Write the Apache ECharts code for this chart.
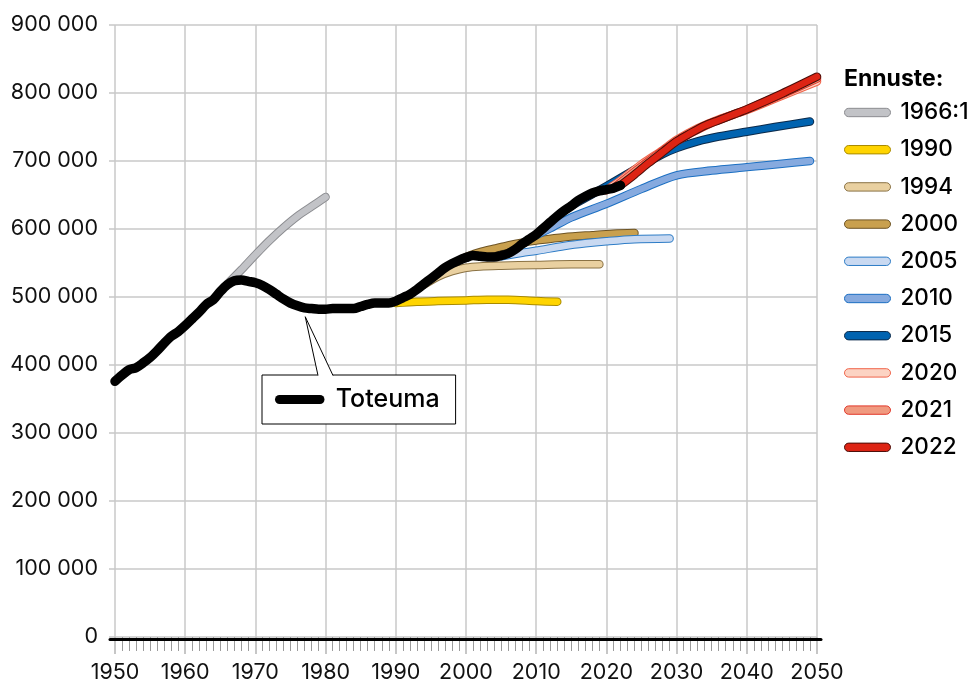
<!DOCTYPE html>
<html>
<head>
<meta charset="utf-8">
<script src="https://cdn.jsdelivr.net/npm/echarts@6/dist/echarts.min.js"></script>
<style>
html,body{margin:0;padding:0;background:#fff;}
#chart{width:976px;height:684px;}
</style>
</head>
<body>
<div id="chart"></div>
<script>
// ---- Data (population) ----
const toteumaYears = [1950,1951,1952,1953,1954,1955,1956,1957,1958,1959,1960,1961,1962,1963,1964,1965,1966,1967,1968,1969,1970,1971,1972,1973,1974,1975,1976,1977,1978,1979,1980,1981,1982,1983,1984,1985,1986,1987,1988,1989,1990,1991,1992,1993,1994,1995,1996,1997,1998,1999,2000,2001,2002,2003,2004,2005,2006,2007,2008,2009,2010,2011,2012,2013,2014,2015,2016,2017,2018,2019,2020,2021,2022];
const toteumaValues = [376000,385000,393000,396000,403000,411000,421000,432000,442000,449000,458000,468000,478000,489000,496000,508000,518000,524000,525000,523000,521000,517000,511000,504000,497000,491000,487000,484000,483000,482000,482000,483000,483000,483000,483000,486000,489000,491000,491000,491000,494000,499000,504000,511000,519000,527000,535000,543000,549000,554000,558000,561000,560000,559000,559000,561000,564000,570000,578000,585000,592000,601000,610000,619000,627000,634000,642000,648000,653000,656000,658000,660000,664000];

const f1966Years  = [1966,1968,1970,1972,1974,1976,1978,1980];
const f1966Values = [519000,540000,562000,583000,602000,619000,633000,647000];

const f1990Years  = [1990,1993,1996,2000,2003,2006,2010,2013];
const f1990Values = [491000,493000,494000,495000,496000,496000,494000,493000];

const f1994Years  = [1994,1996,1998,2000,2002,2005,2010,2015,2019];
const f1994Values = [518000,530000,538000,543000,545000,546000,547000,548000,548000];

const f2000Years  = [2000,2002,2004,2006,2008,2010,2014,2018,2021,2024];
const f2000Values = [559000,566000,571000,576000,580000,583000,588000,591000,593000,594000];

const f2005Years  = [2005,2008,2010,2014,2017,2020,2024,2029];
const f2005Values = [560000,565000,568000,575000,579000,582000,585000,586000];

const f2010Years  = [2010,2012,2015,2020,2025,2030,2035,2040,2045,2049];
const f2010Values = [591000,601000,617000,637000,659000,679000,686000,691000,696000,700000];

const f2015Years  = [2015,2020,2025,2028,2030,2033,2036,2040,2044,2049];
const f2015Values = [634000,663000,693000,710000,719000,729000,736000,743000,750000,758000];

const f2020Years  = [2020,2022,2025,2028,2030,2033,2036,2040,2045,2050];
const f2020Values = [657000,671000,695000,716000,731000,748000,761000,775000,796000,817000];

const f2021Years  = [2021,2025,2030,2035,2040,2045,2050];
const f2021Values = [660000,692000,729000,756000,776000,798000,821000];

const f2022Years  = [2022,2024,2026,2028,2030,2032,2034,2036,2038,2040,2045,2050];
const f2022Values = [664000,680000,697000,713000,729000,741000,752000,760000,768000,776000,799000,824000];

const forecastNames = ['1966:1','1990','1994','2000','2005','2010','2015','2020','2021','2022'];
const forecastYears = [f1966Years,f1990Years,f1994Years,f2000Years,f2005Years,f2010Years,f2015Years,f2020Years,f2021Years,f2022Years];
const forecastValues = [f1966Values,f1990Values,f1994Values,f2000Values,f2005Values,f2010Values,f2015Values,f2020Values,f2021Values,f2022Values];
const fillColors    = ['#c2c3c7','#ffd400','#e9d0a0','#c9a04e','#c9d9f1','#86aadf','#0063b0','#fcd3c3','#f09a80','#dd2414'];
const outlineColors = ['#8b8c90','#a88a00','#8a7244','#6e5424','#2d7cc6','#1b6fc2','#0b2a4a','#f0644a','#e2382a','#4a0d08'];

const xTickLabels = ['1950','1960','1970','1980','1990','2000','2010','2020','2030','2040','2050'];

const FONT = 'Inter, "Liberation Sans", sans-serif';
const pill = 'path://M5,0.5 L41,0.5 A4,4 0 0 1 41,8.5 L5,8.5 A4,4 0 0 1 5,0.5 Z';

function pairs(xs, ys) { return xs.map((x, i) => [x, ys[i]]); }

const series = [];
forecastNames.forEach((name, i) => {
  const data = pairs(forecastYears[i], forecastValues[i]);
  series.push({
    name: name + ' ', type: 'line', data: data, showSymbol: false, smooth: 0.3, clip: false,
    lineStyle: { color: outlineColors[i], width: 8.5, cap: 'round', join: 'round' },
    itemStyle: { color: outlineColors[i] },
    emphasis: { disabled: true }, silent: true, z: 2
  });
  series.push({
    name: name, type: 'line', data: data, showSymbol: false, smooth: 0.3, clip: false,
    lineStyle: { color: fillColors[i], width: 6.5, cap: 'round', join: 'round' },
    itemStyle: { color: fillColors[i], borderColor: outlineColors[i], borderWidth: 1 },
    emphasis: { disabled: true }, silent: true, z: 2
  });
});
series.push({
  name: 'Toteuma', type: 'line', data: pairs(toteumaYears, toteumaValues), showSymbol: false,
  smooth: 0.3, clip: false,
  lineStyle: { color: '#000', width: 9.5, cap: 'round', join: 'round' },
  itemStyle: { color: '#000' },
  emphasis: { disabled: true }, silent: true, z: 3
});

const chart = echarts.init(document.getElementById('chart'), null, { renderer: 'canvas' });

const option = {
  animation: false,
  backgroundColor: '#fff',
  textStyle: { fontFamily: FONT },
  grid: [
    { left: 115, right: 159, top: 25, bottom: 45, containLabel: false },
    { left: 110, right: 155, top: 25, bottom: 45, containLabel: false }
  ],
  title: {
    text: 'Ennuste:', left: 844, top: 67, padding: 0,
    textStyle: { fontFamily: FONT, fontSize: 23, fontWeight: 'bold', color: '#000', lineHeight: 24 }
  },
  legend: [
    {
      orient: 'vertical', left: 844, top: 101, padding: 0, itemGap: 14.2,
      itemWidth: 46, itemHeight: 9, selectedMode: false,
      textStyle: { fontFamily: FONT, fontSize: 22.5, fontWeight: 500, color: '#000', lineHeight: 22, padding: [0, 0, 0, 5] },
      data: forecastNames.map((n, i) => ({
        name: n, icon: pill,
        itemStyle: { color: fillColors[i], borderColor: outlineColors[i], borderWidth: 1 }
      }))
    },
    {
      orient: 'horizontal', left: 262, top: 375, padding: [11, 16, 11, 13],
      itemWidth: 52, itemHeight: 9, selectedMode: false,
      backgroundColor: '#fff', borderColor: '#000', borderWidth: 1, borderRadius: 0,
      textStyle: { fontFamily: FONT, fontSize: 25, fontWeight: 500, color: '#000', lineHeight: 27, padding: [0, 0, 0, 5] },
      data: [{ name: 'Toteuma', icon: pill, itemStyle: { color: '#000', borderWidth: 0 } }]
    }
  ],
  xAxis: [
    {
      gridIndex: 0, type: 'value', min: 1950, max: 2050, interval: 10, position: 'bottom',
      axisLine: { show: false, onZero: false },
      axisTick: { show: true, inside: false, length: 17, lineStyle: { color: '#b4b4b4', width: 1.5 } },
      minorTick: { show: true, splitNumber: 10, length: 14, lineStyle: { color: '#9c9c9c', width: 1 } },
      splitLine: { show: true, lineStyle: { color: '#c8c8c8', width: 1.5 } },
      axisLabel: {
        margin: 25, fontFamily: FONT, fontSize: 21.5, color: '#111',
        formatter: v => xTickLabels[Math.round((v - 1950) / 10)] || String(v)
      }
    },
    {
      gridIndex: 1, type: 'value', min: 0, max: 1, position: 'bottom', z: 5,
      axisLine: { show: true, onZero: false, lineStyle: { color: '#000', width: 3 } },
      axisTick: { show: false }, axisLabel: { show: false }, splitLine: { show: false }
    }
  ],
  yAxis: [
    {
      gridIndex: 0, type: 'value', min: 0, max: 900000, interval: 100000,
      axisLine: { show: false },
      axisTick: { show: true, inside: false, length: 6, lineStyle: { color: '#c8c8c8', width: 1.5 } },
      splitLine: { show: true, lineStyle: { color: '#c8c8c8', width: 1.5 } },
      axisLabel: {
        margin: 17, fontFamily: FONT, fontSize: 21.5, color: '#111', padding: [0, 0, 6, 0],
        formatter: v => String(v).replace(/\B(?=(\d{3})+(?!\d))/g, ' ')
      }
    },
    {
      gridIndex: 1, type: 'value', min: 0, max: 1, show: false
    }
  ],
  series: series
};
chart.setOption(option);

// Callout pointer from the "Toteuma" box to the observed line
const tip = chart.convertToPixel({ xAxisIndex: 0, yAxisIndex: 0 }, [1977.1, 471000]);
chart.setOption({
  graphic: [
    { type: 'polygon', z: 100, shape: { points: [tip, [318, 376], [333, 376]] }, style: { fill: '#fff', stroke: null } },
    { type: 'polyline', z: 101, shape: { points: [[318, 375.5], tip, [333, 375.5]] }, style: { stroke: '#000', lineWidth: 1, fill: null } }
  ]
});
</script>
</body>
</html>
